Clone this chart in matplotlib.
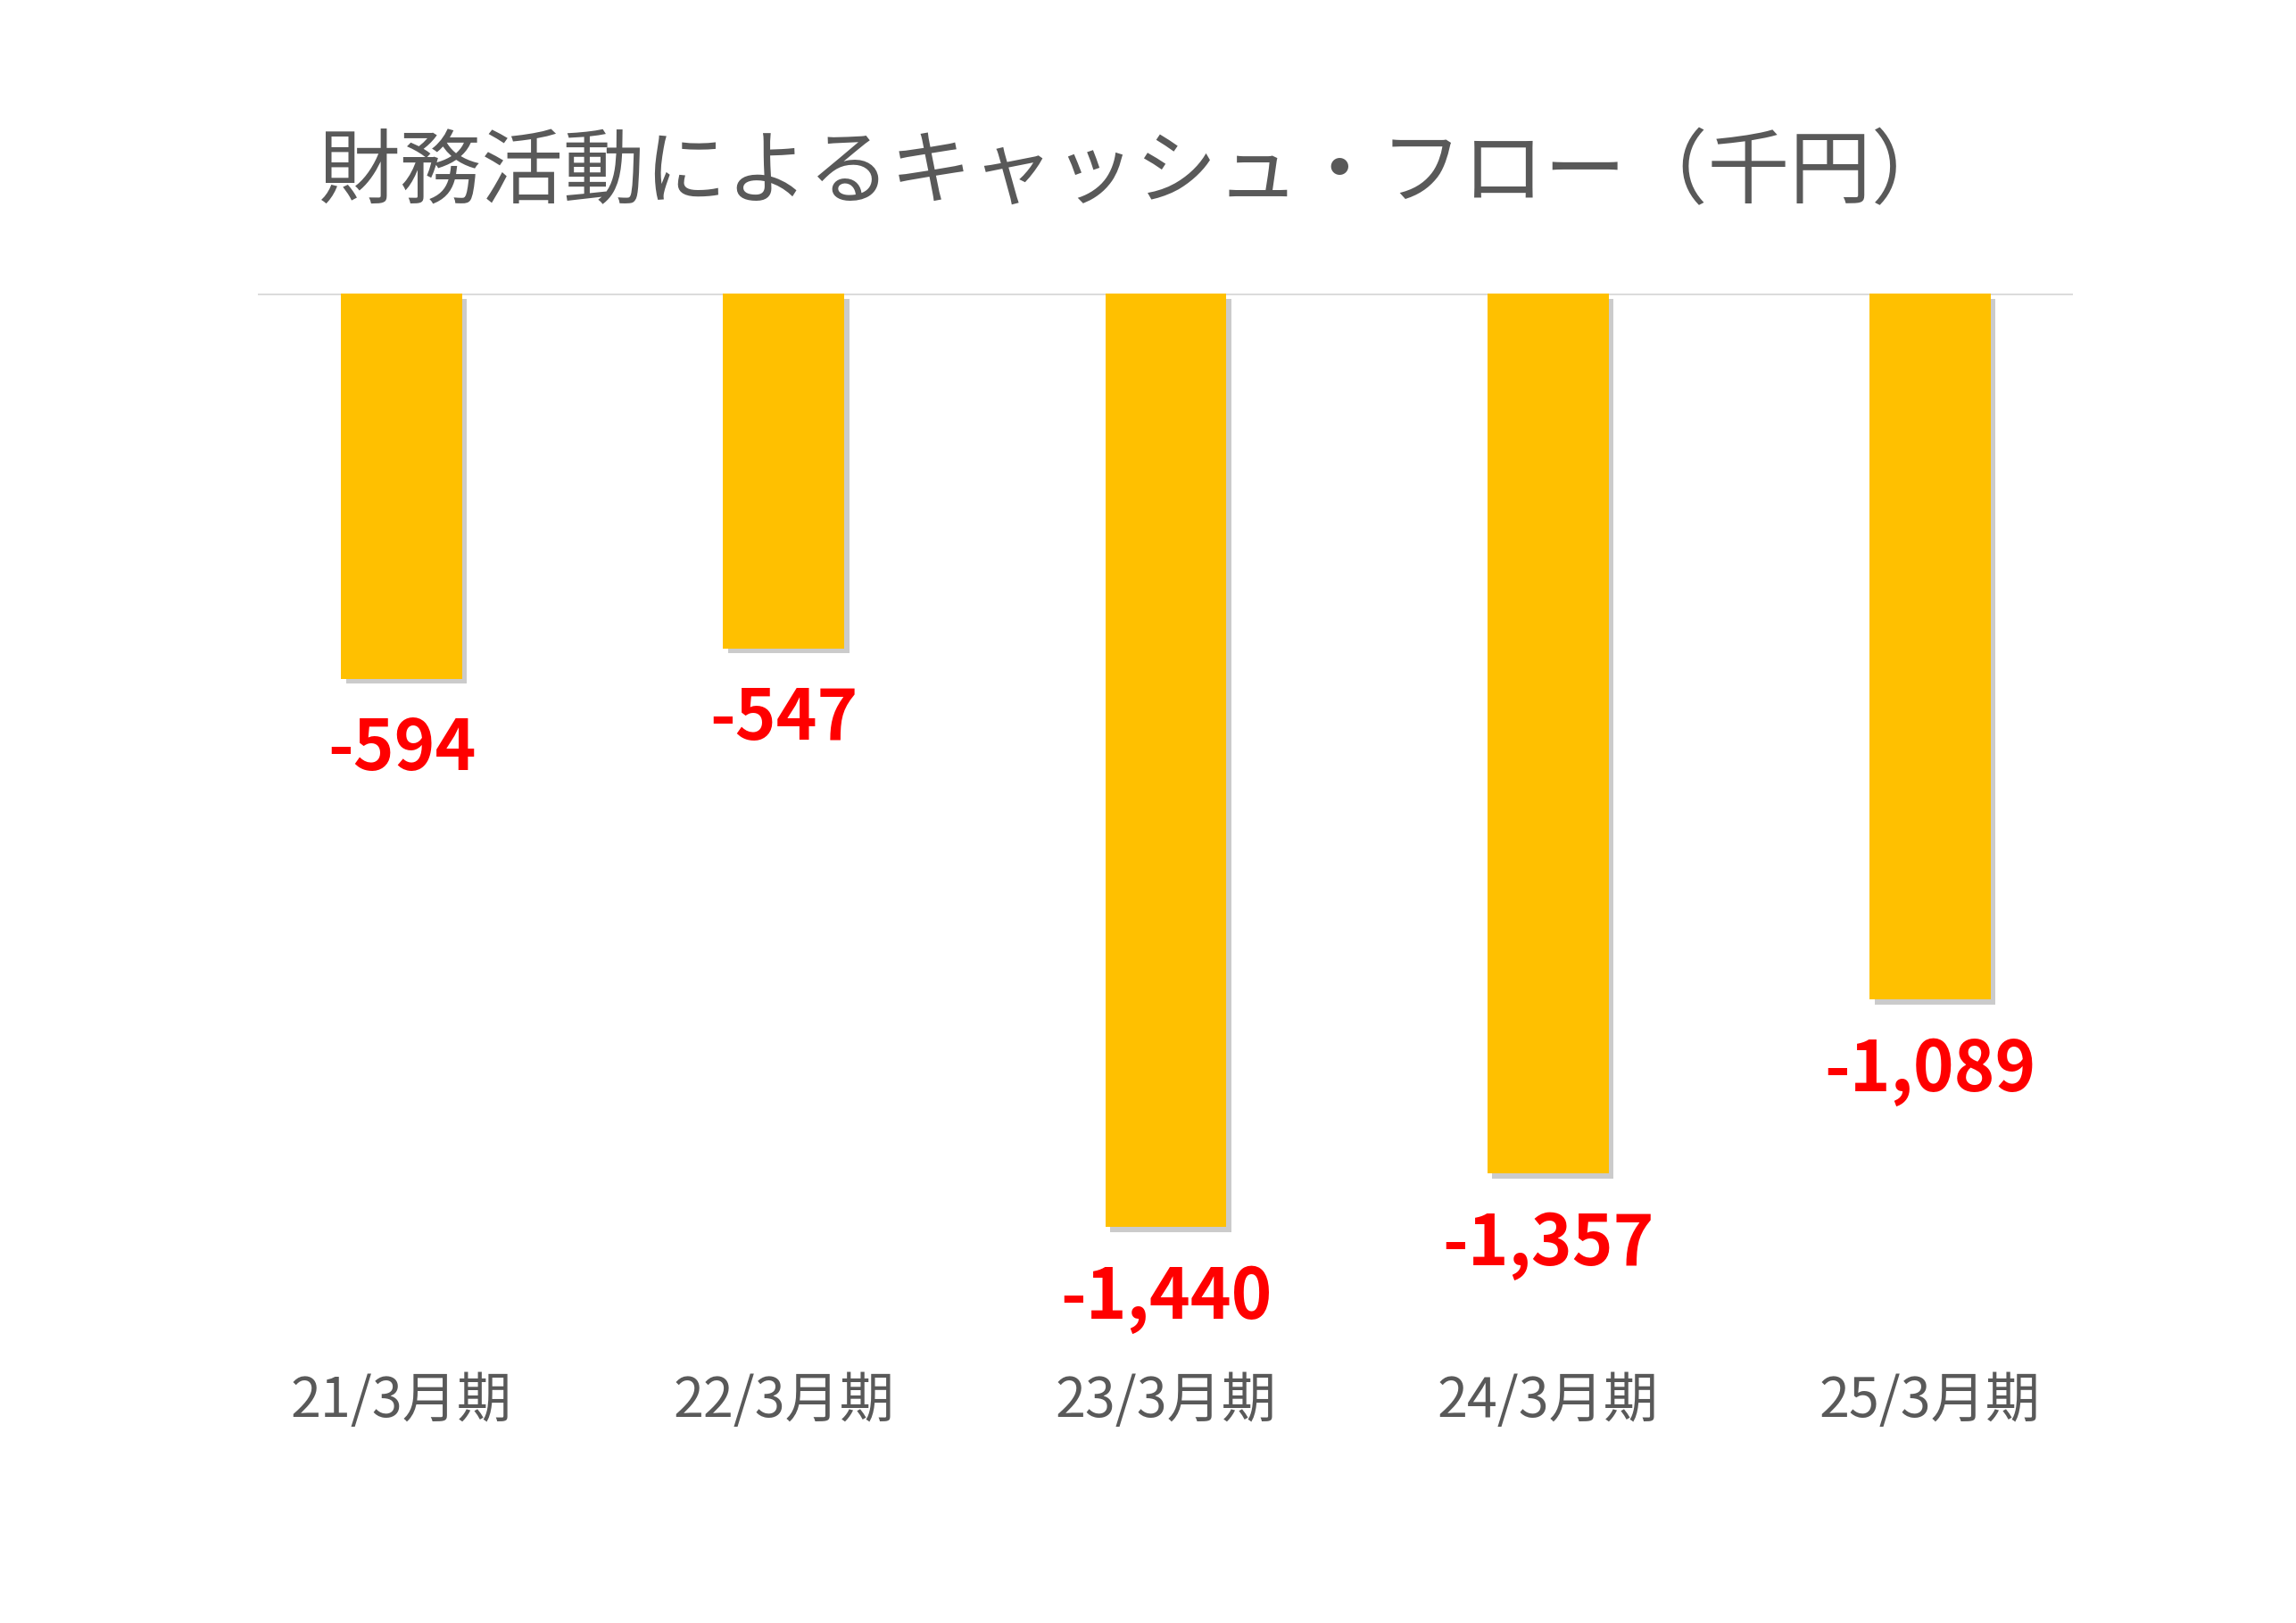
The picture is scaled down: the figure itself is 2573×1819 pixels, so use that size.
import matplotlib
matplotlib.use("Agg")
import matplotlib.pyplot as plt
import matplotlib.patheffects as pe

plt.rcParams["font.family"] = ["Noto Sans CJK JP", "DejaVu Sans"]

categories = ["21/3月期", "22/3月期", "23/3月期", "24/3月期", "25/3月期"]
values = [-594, -547, -1440, -1357, -1089]
value_labels = ["-594", "-547", "-1,440", "-1,357", "-1,089"]
title = "財務活動によるキャッシュ・フロー（千円）"

fig = plt.figure(figsize=(25.73, 18.19), dpi=100)
ax = fig.add_axes([0.1125, 0.18, 0.7905, 0.639])

x = range(len(categories))
bars = ax.bar(x, values, width=0.317, color="#FFC000", zorder=2)
for b in bars:
    b.set_path_effects([pe.SimplePatchShadow(offset=(4, -4), shadow_rgbFace="#999999", alpha=0.5),
                        pe.Normal()])

ax.set_xlim(-0.375, 4.375)
ax.set_ylim(-1600, 0)
ax.axhline(0, color="#D9D9D9", lw=2, zorder=1)

for i, (v, s) in enumerate(zip(values, value_labels)):
    ax.text(i, v - 55, s, ha="center", va="top", color="#FF0000",
            fontsize=56, fontweight="bold", clip_on=False)

for sp in ax.spines.values():
    sp.set_visible(False)
ax.set_yticks([])
ax.set_xticks([])
for i, c in enumerate(categories):
    fig.text((272 + 259 * i) / 1556, 1 - 950 / 1100, c, ha="center", va="center",
             fontsize=44, color="#595959")

fig.text(770 / 1556, 1 - 118 / 1100, title, ha="center", va="center",
         fontsize=66, color="#595959")

fig.savefig("out.png", dpi=100, facecolor="white")
